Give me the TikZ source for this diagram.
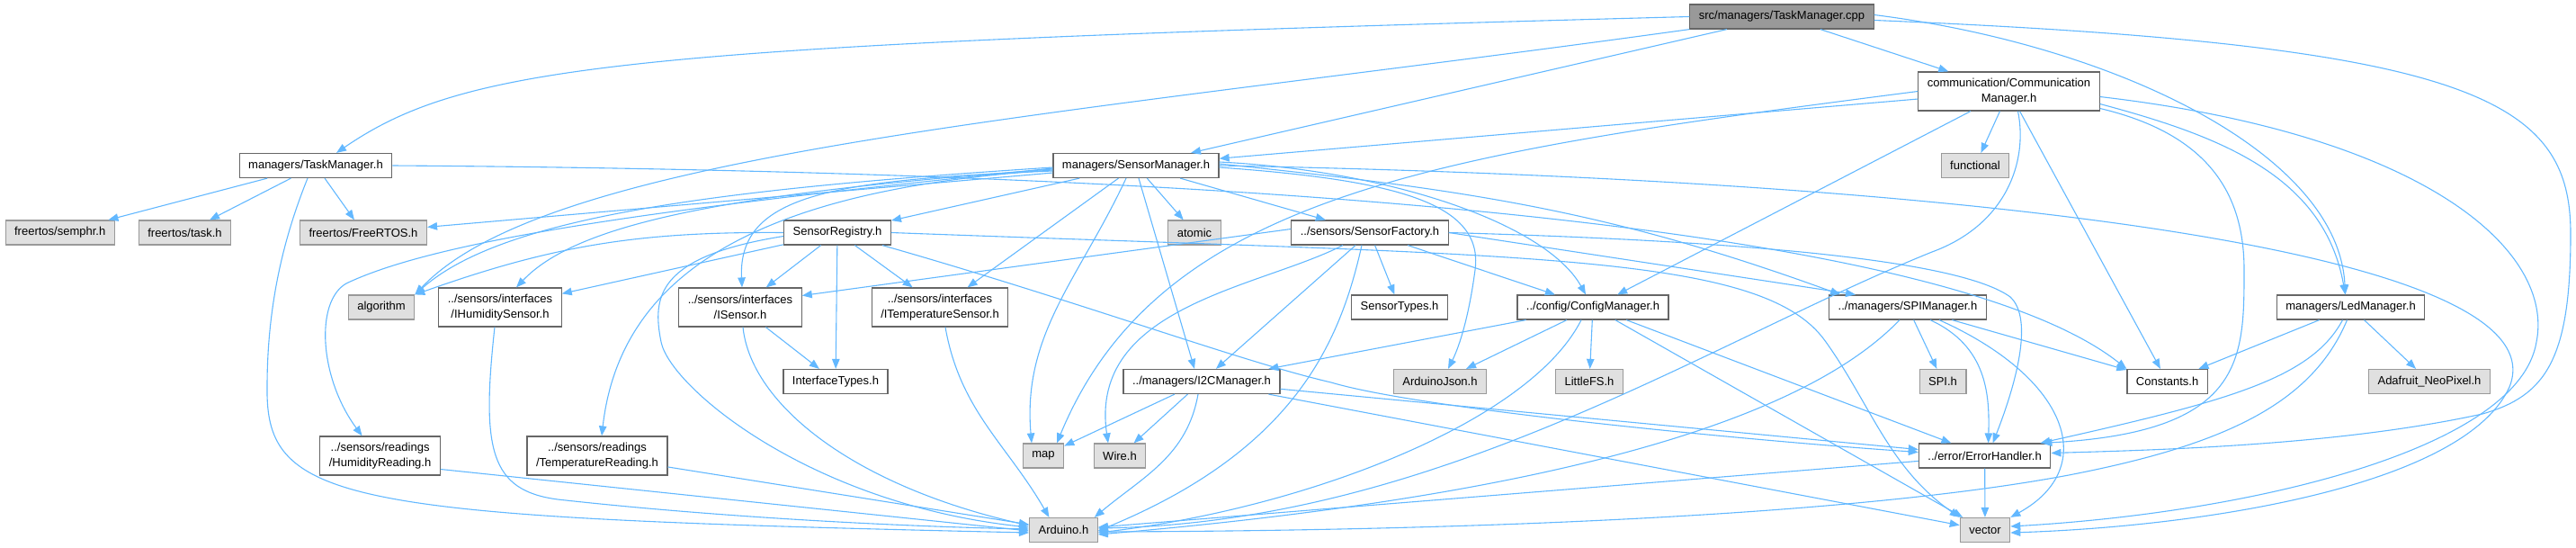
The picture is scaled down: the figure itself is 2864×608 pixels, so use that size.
\documentclass[tikz,border=0pt]{standalone}
\usepackage{fontspec}
\setmainfont{Liberation Sans}
\usepackage{xcolor}
\usepackage{tikz}
\usetikzlibrary{arrows.meta}

\definecolor{edgeblue}{HTML}{63B8FF}
\definecolor{docline}{HTML}{666666}
\definecolor{sysline}{HTML}{999999}
\definecolor{sysfill}{HTML}{E0E0E0}
\definecolor{mainfill}{HTML}{999999}

\begin{document}
\begin{tikzpicture}[
  x=1pt, y=-1pt,
  header/.style={
    draw=docline,
    fill=white,
    line width=1.2pt,
    minimum height=27pt,
    inner xsep=10pt,
    inner ysep=2pt,
    align=center,
    font=\fontsize{13}{16.5}\selectfont
  },
  twoline/.style={
    header,
    minimum height=43pt
  },
  syshdr/.style={
    header,
    draw=sysline,
    fill=sysfill
  },
  mainsrc/.style={
    header,
    fill=mainfill
  },
  arrow/.style={
    -{Triangle[length=11pt,width=8.5pt]},
    draw=edgeblue,
    line width=1.1pt
  }
]

\useasboundingbox (0,0) rectangle (2864,608);

% Die Dateien
\node[mainsrc] (root) at (1981,18.5) {src/managers/TaskManager.cpp};
\node[twoline] (commmgr) at (2233.5,101.5) {communication/Communication\\Manager.h};
\node[header] (taskmgr) at (351,184) {managers/TaskManager.h};
\node[header] (sensormgr) at (1263,184) {managers/SensorManager.h};
\node[syshdr] (functional) at (2196,184) {functional};
\node[syshdr] (semphr) at (66.7,258.5) {freertos/semphr.h};
\node[syshdr] (freetask) at (205.5,258.5) {freertos/task.h};
\node[syshdr] (freertos) at (404,258.5) {freertos/FreeRTOS.h};
\node[header] (registry) at (931,258.5) {SensorRegistry.h};
\node[syshdr] (atomic) at (1328,258.5) {atomic};
\node[header] (factory) at (1523,258.5) {../sensors/SensorFactory.h};
\node[syshdr] (algorithm) at (424,341.5) {algorithm};
\node[twoline] (ihumid) at (556,341.5) {../sensors/interfaces\\/IHumiditySensor.h};
\node[twoline] (isensor) at (823,341.5) {../sensors/interfaces\\/ISensor.h};
\node[twoline] (itemp) at (1045,341.5) {../sensors/interfaces\\/ITemperatureSensor.h};
\node[header] (sensortypes) at (1556,341.5) {SensorTypes.h};
\node[header] (configmgr) at (1771,341.5) {../config/ConfigManager.h};
\node[header] (spimgr) at (2121,341.5) {../managers/SPIManager.h};
\node[header] (ledmgr) at (2613.5,341.5) {managers/LedManager.h};
\node[header] (itypes) at (929,424) {InterfaceTypes.h};
\node[header] (i2cmgr) at (1336,424) {../managers/I2CManager.h};
\node[syshdr] (arduinojson) at (1601,424) {ArduinoJson.h};
\node[syshdr] (littlefs) at (1767,424) {LittleFS.h};
\node[syshdr] (spi) at (2160,424) {SPI.h};
\node[header] (constants) at (2409.6,424) {Constants.h};
\node[syshdr] (adafruit) at (2701,424) {Adafruit\_NeoPixel.h};
\node[twoline] (humread) at (422.6,506.5) {../sensors/readings\\/HumidityReading.h};
\node[twoline] (tempread) at (664,506.5) {../sensors/readings\\/TemperatureReading.h};
\node[syshdr] (map) at (1160,506.5) {map};
\node[syshdr] (wire) at (1245,506.5) {Wire.h};
\node[header] (errh) at (2206.6,506.5) {../error/ErrorHandler.h};
\node[syshdr] (arduino) at (1182.4,589) {Arduino.h};
\node[syshdr] (vector) at (2207,589) {vector};

% TaskManager.cpp
\draw[arrow] (root.west) .. controls (700,50) and (520,70) .. ([xshift=23pt]taskmgr.north);
\draw[arrow] (root) -- (sensormgr);
\draw[arrow] (root) -- (commmgr);
\draw[arrow] ([yshift=2pt]root.east) .. controls (2350,50) and (2600,170) .. ([xshift=-6pt]ledmgr.north);
\draw[arrow] ([yshift=-4pt]root.east) .. controls (2750,50) and (2858,110) .. (2858,260)
  .. controls (2858,400) and (2830,440) .. (2760,460)
  .. controls (2600,495) and (2400,500) .. ([yshift=3pt]errh.east);
\draw[arrow] (root.south west) .. controls (1177,130) and (612,168) .. (algorithm.north east);

% TaskManager.h
\draw[arrow] (taskmgr) -- (semphr);
\draw[arrow] (taskmgr) -- (freetask);
\draw[arrow] (taskmgr) -- (freertos);
\draw[arrow] ([xshift=-9pt]taskmgr.south) .. controls (315,265) and (297,340) .. (297,430)
  .. controls (295,560) and (380,575) .. ([yshift=-3pt]arduino.west);
\draw[arrow] (taskmgr.east) .. controls (1300,190) and (2150,240) .. (constants.north west);

% CommunicationManager.h
\draw[arrow] (commmgr) -- (sensormgr);
\draw[arrow] (commmgr) -- (functional);
\draw[arrow] (commmgr) -- (configmgr);
\draw[arrow] (commmgr) -- (constants);
\draw[arrow] (commmgr.west) .. controls (1600,170) and (1290,215) .. ([xshift=15pt]map.north);
\draw[arrow] ([yshift=-14pt]commmgr.east) to[out=-15,in=100] ([xshift=-6pt]ledmgr.north);
\draw[arrow] ([yshift=-19pt]commmgr.east) .. controls (2460,150) and (2495,220) .. (2495,300)
  .. controls (2495,400) and (2495,480) .. ([xshift=-10pt]errh.north east);
\draw[arrow] ([yshift=-6pt]commmgr.east) .. controls (2700,150) and (2840,280) .. (2820,380)
  .. controls (2800,500) and (2500,570) .. ([yshift=4pt]vector.east);
\draw[arrow] ([xshift=10pt]commmgr.south) .. controls (2255,180) and (2230,250) .. (2148,280)
  .. controls (1900,380) and (1600,580) .. ([yshift=2pt]arduino.east);

% SensorManager.h
\draw[arrow] (sensormgr) -- (freertos);
\draw[arrow] (sensormgr) -- (registry);
\draw[arrow] (sensormgr) -- (atomic);
\draw[arrow] (sensormgr) -- (factory);
\draw[arrow] (sensormgr) -- (itemp);
\draw[arrow] ([yshift=-2pt]sensormgr.west) .. controls (800,210) and (560,240) .. (algorithm.north east);
\draw[arrow] ([yshift=-4pt]sensormgr.west) .. controls (800,215) and (640,250) .. ([xshift=18pt]ihumid.north);
\draw[arrow] ([yshift=-6pt]sensormgr.west) .. controls (930,200) and (820,215) .. ([xshift=2pt]isensor.north);
\draw[arrow] ([yshift=-3pt]sensormgr.west) .. controls (800,225) and (500,260) .. (385,315)
  .. controls (350,335) and (355,420) .. ([xshift=-20pt]humread.north);
\draw[arrow] ([yshift=-5pt]sensormgr.west) .. controls (850,210) and (690,300) .. ([xshift=5pt]tempread.north);
\draw[arrow] ([xshift=-11pt]sensormgr.south) to[out=-115,in=95] ([xshift=-13pt]map.north);
\draw[arrow] ([xshift=3pt]sensormgr.south) -- ([xshift=-8pt]i2cmgr.north);
\draw[arrow] ([yshift=4pt]sensormgr.east) .. controls (1550,190) and (1720,250) .. ([xshift=-8pt]configmgr.north);
\draw[arrow] ([yshift=2pt]sensormgr.east) to[out=-6,in=160] ([xshift=-75pt]spimgr.north);
\draw[arrow] ([yshift=-2pt]sensormgr.east) .. controls (1550,200) and (1650,225) .. (1640,300)
  .. controls (1632,360) and (1620,390) .. ([xshift=9pt]arduinojson.north);
\draw[arrow] (sensormgr.east) .. controls (2200,200) and (2850,280) .. (2790,430)
  .. controls (2740,540) and (2450,585) .. ([yshift=-3pt]vector.east);

% SensorRegistry.h
\draw[arrow] (registry.west) to[bend right=10] (algorithm.north east);
\draw[arrow] (registry) -- (ihumid);
\draw[arrow] (registry) -- (isensor);
\draw[arrow] (registry) -- (itemp);
\draw[arrow] (registry) -- (itypes);
\draw[arrow] ([yshift=-4pt]registry.west) .. controls (730,285) and (725,330) .. (735,380)
  .. controls (745,430) and (900,560) .. ([yshift=3pt]arduino.west);
\draw[arrow] ([xshift=-10pt]registry.south east) .. controls (1200,335) and (1380,402) .. (1480,425)
  .. controls (1580,455) and (1950,490) .. ([yshift=4pt]errh.west);
\draw[arrow] (registry.east) .. controls (1700,285) and (1960,280) .. (2030,380)
  .. controls (2080,450) and (2100,520) .. (vector.north west);

% SensorFactory.h
\draw[arrow] ([yshift=4pt]factory.west) -- ([yshift=13pt]isensor.east);
\draw[arrow] (factory) -- (sensortypes);
\draw[arrow] (factory) -- (configmgr);
\draw[arrow] (factory) -- (i2cmgr);
\draw[arrow] (factory.east) -- ([xshift=-58pt]spimgr.north);
\draw[arrow] ([xshift=-30pt]factory.south) .. controls (1400,320) and (1210,340) .. ([xshift=-13pt]wire.north);
\draw[arrow] ([xshift=-9pt]factory.south) .. controls (1490,380) and (1440,500) .. ([yshift=-1pt]arduino.east);
\draw[arrow] (factory.east) .. controls (1950,268) and (2180,290) .. (2235,330)
  .. controls (2262,355) and (2240,430) .. ([xshift=9pt]errh.north);

% ConfigManager.h
\draw[arrow] (configmgr) -- (i2cmgr);
\draw[arrow] (configmgr) -- (arduinojson);
\draw[arrow] (configmgr) -- (littlefs);
\draw[arrow] (configmgr) -- (errh);
\draw[arrow] (configmgr) -- (vector);
\draw[arrow] ([xshift=-13pt]configmgr.south) .. controls (1700,470) and (1450,565) .. ([yshift=-3pt]arduino.east);

% I2CManager.h
\draw[arrow] (i2cmgr) -- (map);
\draw[arrow] (i2cmgr) -- (wire);
\draw[arrow] (i2cmgr) -- (errh);
\draw[arrow] (i2cmgr) -- (vector);
\draw[arrow] ([xshift=-4pt]i2cmgr.south) to[out=-100,in=40] ([xshift=-4pt]arduino.north east);

% SPIManager.h
\draw[arrow] (spimgr) -- (constants);
\draw[arrow] (spimgr) -- (spi);
\draw[arrow] ([xshift=25pt]spimgr.south) .. controls (2210,385) and (2212,440) .. ([xshift=4pt]errh.north);
\draw[arrow] ([xshift=35pt]spimgr.south) .. controls (2300,420) and (2335,520) .. (vector.north east);
\draw[arrow] ([xshift=-9pt]spimgr.south) .. controls (2040,430) and (1850,540) .. ([yshift=-5pt]arduino.east);

% LedManager.h
\draw[arrow] (ledmgr) -- (constants);
\draw[arrow] (ledmgr) -- (adafruit);
\draw[arrow] ([xshift=-9pt]ledmgr.south) .. controls (2570,420) and (2480,445) .. ([xshift=-12pt]errh.north east);
\draw[arrow] ([xshift=-4pt]ledmgr.south) .. controls (2570,450) and (2470,495) .. (2300,528)
  .. controls (2050,575) and (1600,590) .. ([yshift=-2pt]arduino.east);

% ErrorHandler.h
\draw[arrow] (errh) -- (arduino);
\draw[arrow] (errh) -- (vector);

% Schnittstellen und Messwerte
\draw[arrow] (isensor) -- (itypes);
\draw[arrow] ([xshift=3pt]isensor.south) .. controls (835,450) and (950,540) .. ([yshift=5pt]arduino.west);
\draw[arrow] ([xshift=6pt]itemp.south) to[out=-80,in=120] ([xshift=-16pt]arduino.north);
\draw[arrow] ([xshift=-6pt]ihumid.south) .. controls (535,500) and (545,545) .. (620,555)
  .. controls (800,575) and (1000,585) .. ([yshift=1pt]arduino.west);
\draw[arrow] ([yshift=-15pt]humread.east) -- ([yshift=-1pt]arduino.west);
\draw[arrow] (tempread) -- (arduino);

\end{tikzpicture}
\end{document}
